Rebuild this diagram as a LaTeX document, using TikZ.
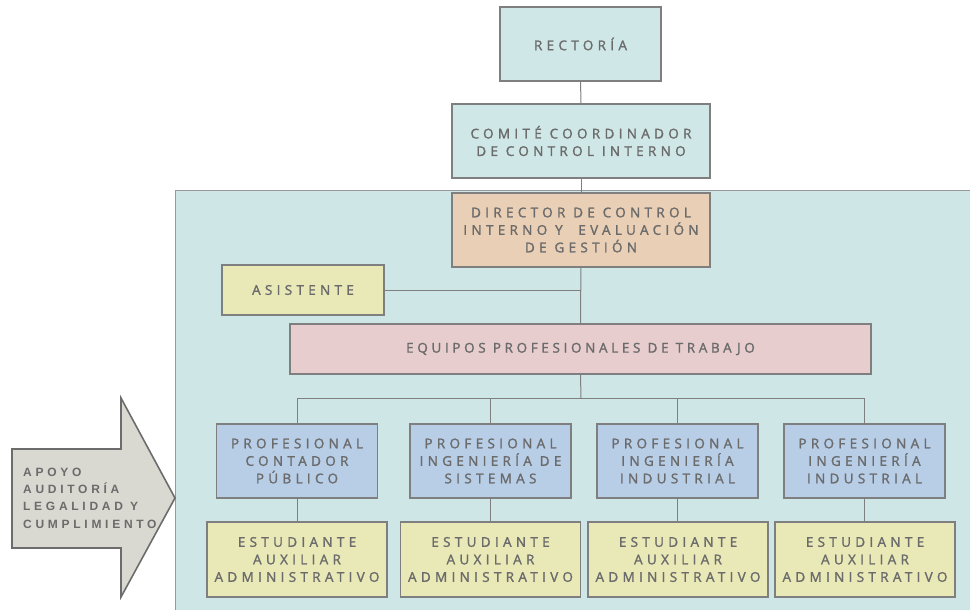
\documentclass[tikz,border=0pt]{standalone}
\usepackage{fontspec}
\newfontfamily\orgfont[LetterSpace=32,FakeBold=1.6]{Open Sans}
\newfontfamily\equiposfont[LetterSpace=27,FakeBold=1.6]{Open Sans}
\newfontfamily\apoyofont[LetterSpace=31]{Liberation Sans}
\usetikzlibrary{positioning}

\definecolor{cyanbox}{HTML}{D0E7E7}
\definecolor{areabg}{HTML}{CFE6E6}
\definecolor{salmon}{HTML}{E8CFB5}
\definecolor{amarillo}{HTML}{E9E8B7}
\definecolor{rosa}{HTML}{E8CDCE}
\definecolor{azul}{HTML}{B8CDE6}
\definecolor{gris}{HTML}{D9D9D1}
\definecolor{boxline}{HTML}{7F7F7F}
\definecolor{labelgray}{HTML}{6B6B6B}

\tikzset{
  unit/.style={draw=boxline, line width=1.1pt, align=center, inner sep=0pt,
    text=labelgray, font=\orgfont\fontsize{13.5}{17.5}\selectfont},
  prof/.style={unit, fill=azul, minimum width=161, minimum height=74},
  estud/.style={unit, fill=amarillo, minimum width=180, minimum height=75},
  conn/.style={draw=boxline, line width=1pt},
}

\begin{document}
\begin{tikzpicture}[x=1pt,y=-1pt]
	\useasboundingbox (0,0) rectangle (970,610);
	\clip (0,0) rectangle (970,610);
	\node[draw=boxline!80, fill=areabg, line width=1pt, minimum width=820, minimum height=440, anchor=north west] (area) at (175,190) {};
	% flecha de apoyo
	\draw[draw=boxline!85!black, fill=gris, line width=1.6pt, line join=miter]
		(12,449) -- (121,449) -- (121,398) -- (175,498) -- (121,597) -- (121,548) -- (12,548) -- cycle;
	\node[align=left, inner sep=0pt, anchor=west, text=labelgray, font=\apoyofont\bfseries\fontsize{12}{17.3}\selectfont] (apoyo) at (23,498) {APOYO\\AUDITORÍA\\LEGALIDAD Y\\CUMPLIMIENTO};
	% cajas
	\node[unit, fill=cyanbox, minimum width=161, minimum height=74] (rect) at (580.5,44) {RECTORÍA};
	\node[unit, fill=cyanbox, minimum width=258, minimum height=74] (comite) at (581,141) {COMITÉ COORDINADOR\\DE CONTROL INTERNO};
	\node[unit, fill=salmon, minimum width=258, minimum height=74] (dir) at (581,230) {DIRECTOR DE CONTROL\\INTERNO Y \ EVALUACIÓN\\DE GESTIÓN};
	\node[unit, fill=amarillo, minimum width=162, minimum height=50] (asis) at (303,290) {ASISTENTE};
	\node[unit, fill=rosa, minimum width=581, minimum height=50, font=\equiposfont\fontsize{13.5}{17.5}\selectfont] (equipos) at (580.5,349) {EQUIPOS PROFESIONALES DE TRABAJO};
	\node[prof] (p1) at (297,461) {PROFESIONAL\\CONTADOR\\PÚBLICO};
	\node[prof] (p2) at (490.5,461) {PROFESIONAL\\INGENIERÍA DE\\SISTEMAS};
	\node[prof] (p3) at (677.5,461) {PROFESIONAL\\INGENIERÍA\\INDUSTRIAL};
	\node[prof] (p4) at (864.5,461) {PROFESIONAL\\INGENIERÍA\\INDUSTRIAL};
	\foreach \i/\x in {1/297,2/490.5,3/678,4/865}
		\node[estud] (s\i) at (\x,559.5) {ESTUDIANTE\\AUXILIAR\\ADMINISTRATIVO};
	% lineas
	\coordinate (bus) at (581,398);
	\path[conn]
	(rect) edge (comite)
	(comite) edge (dir)
	(dir) edge (equipos);
	\draw[conn] (asis.east) -- (asis.east -| dir.south);
	\draw[conn] (equipos.south) -- (bus);
	\draw[conn] (p1.north |- bus) -- (p4.north |- bus);
	\foreach \i in {1,...,4} {
		\draw[conn] (p\i.north) -- (p\i.north |- bus);
		\draw[conn] (p\i.south) -- (p\i.south |- s\i.north);
	}
\end{tikzpicture}
\end{document}
